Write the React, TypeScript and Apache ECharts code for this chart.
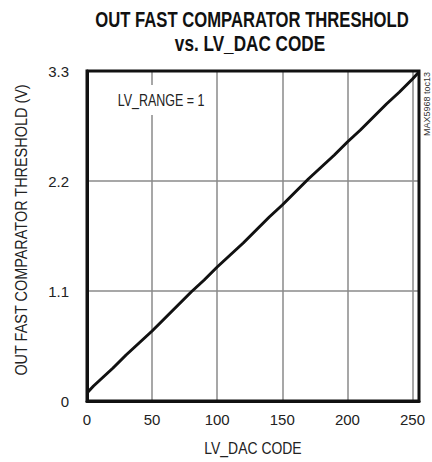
import React, { useEffect, useRef } from "react";
import * as echarts from "echarts";

const codes = [0, 5, 10, 20, 30, 40, 50, 60, 70, 80, 90, 100, 110, 120, 130, 140, 150, 160, 170, 180, 190, 200, 210, 220, 230, 240, 250, 255];
const volts = [0.08, 0.15, 0.21, 0.33, 0.46, 0.58, 0.70, 0.83, 0.96, 1.09, 1.21, 1.34, 1.46, 1.58, 1.71, 1.84, 1.96, 2.09, 2.22, 2.34, 2.46, 2.59, 2.71, 2.84, 2.97, 3.09, 3.22, 3.29];
const xTicks = [0, 50, 100, 150, 200, 250];
const yTicks = [0, 1.1, 2.2, 3.3];
const titleLines = ["OUT FAST COMPARATOR THRESHOLD", "vs. LV_DAC CODE"];
const xName = "LV_DAC CODE";
const yName = "OUT FAST COMPARATOR THRESHOLD (V)";
const noteText = "LV_RANGE = 1";
const idText = "MAX5968 toc13";

const FONT = '"Liberation Sans", Arial, sans-serif';

export default function App() {
  const ref = useRef<HTMLDivElement>(null);
  useEffect(() => {
    if (!ref.current) return;
    const chart = echarts.init(ref.current, undefined, { renderer: "svg" });
    const narrow = (text: string, x: number, y: number, size: number, sx: number, extra: any = {}) => ({
      type: "text",
      x,
      y,
      scaleX: sx,
      rotation: extra.rotation || 0,
      z: extra.z || 20,
      style: {
        text,
        fontFamily: FONT,
        fontSize: size,
        fontWeight: extra.bold ? "bold" : "normal",
        fill: extra.fill || "#222",
        align: "center",
        verticalAlign: "middle",
        backgroundColor: extra.bg,
        padding: extra.padding,
      },
    });
    chart.setOption({
      animation: false,
      backgroundColor: "#ffffff",
      grid: { left: 87, right: 13, top: 71, bottom: 61, containLabel: false },
      xAxis: {
        type: "value",
        min: 0,
        max: 255,
        interval: 50,
        axisLine: { show: true, lineStyle: { color: "#111", width: 3 } },
        axisTick: { show: false },
        axisLabel: {
          fontFamily: FONT,
          fontSize: 15,
          color: "#222",
          margin: 11,
          showMaxLabel: false,
          formatter: (v: number) => (xTicks.includes(v) ? String(v) : ""),
        },
        splitLine: { show: true, lineStyle: { color: "#8a8a8a", width: 1.5 } },
      },
      yAxis: {
        type: "value",
        min: 0,
        max: 3.3,
        interval: 1.1,
        axisLine: { show: true, lineStyle: { color: "#111", width: 3 } },
        axisTick: { show: false },
        axisLabel: {
          fontFamily: FONT,
          fontSize: 15,
          color: "#222",
          margin: 18,
          formatter: (v: number) => {
            const t = yTicks.find((y) => Math.abs(y - v) < 1e-6);
            return t === undefined ? "" : t === 0 ? "0" : t.toFixed(1);
          },
        },
        splitLine: { show: true, lineStyle: { color: "#8a8a8a", width: 1.5 } },
      },
      graphic: [
        {
          type: "rect",
          shape: { x: 87, y: 71, width: 332, height: 330 },
          style: { fill: "none", stroke: "#111", lineWidth: 3 },
          z: 10,
        },
        narrow(titleLines[0], 252, 19, 22, 0.757, { bold: true, fill: "#111" }),
        narrow(titleLines[1], 250, 43, 22, 0.78, { bold: true, fill: "#111" }),
        narrow(xName, 253, 448, 17, 0.82),
        narrow(yName, 21, 230, 17, 0.85, { rotation: Math.PI / 2 }),
        narrow(noteText, 161, 100, 16, 0.78, { bg: "#fff", padding: [7, 3, 7, 3], z: 5 }),
        narrow(idText, 426.5, 104, 9.5, 0.95, { rotation: Math.PI / 2, fill: "#333" }),
      ],
      series: [
        {
          type: "line",
          data: codes.map((c, i) => [c, volts[i]]),
          showSymbol: false,
          lineStyle: { color: "#111", width: 3 },
          z: 3,
        },
      ],
    });
    return () => chart.dispose();
  }, []);
  return (
    <div
      ref={ref}
      style={{ position: "absolute", left: 0, top: 0, width: 432, height: 462 }}
    />
  );
}
